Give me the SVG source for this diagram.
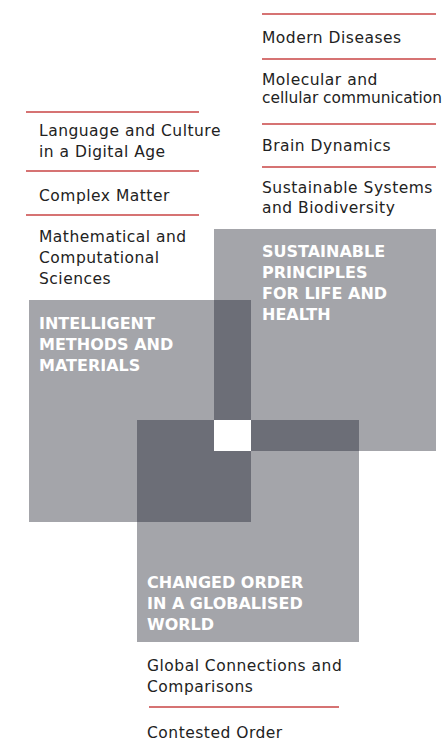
<svg xmlns="http://www.w3.org/2000/svg" width="448" height="750" viewBox="0 0 448 750">
<style>
.light{fill:#a4a5aa}
.dark{fill:#6c6e77}
.hole{fill:#ffffff}
.head{font-family:"DejaVu Sans",sans-serif;font-weight:bold;font-size:16px;fill:#ffffff}
.item{font-family:"DejaVu Sans",sans-serif;font-size:15.5px;letter-spacing:0.5px;fill:#222222}
.tight{letter-spacing:0px}
.sep{stroke:#c84444;stroke-width:1.3;fill:none}
</style>
<rect width="448" height="750" fill="#ffffff"/>
<g id="squares">
<rect class="light" x="29" y="300" width="222" height="222"/>
<rect class="light" x="214" y="229" width="222" height="222"/>
<rect class="light" x="137" y="420" width="222" height="222"/>
<rect class="dark" x="214" y="300" width="37" height="151"/>
<rect class="dark" x="137" y="420" width="114" height="102"/>
<rect class="dark" x="214" y="420" width="145" height="31"/>
<rect class="hole" x="214" y="420" width="37" height="31"/>
</g>
<g id="node-intelligent">
<text class="head" x="39" y="329">INTELLIGENT</text>
<text class="head" x="39" y="350">METHODS AND</text>
<text class="head" x="39" y="371">MATERIALS</text>
</g>
<g id="node-sustainable">
<text class="head" x="262" y="257">SUSTAINABLE</text>
<text class="head" x="262" y="278">PRINCIPLES</text>
<text class="head" x="262" y="299">FOR LIFE AND</text>
<text class="head" x="262" y="320">HEALTH</text>
</g>
<g id="node-changed">
<text class="head" x="147" y="588">CHANGED ORDER</text>
<text class="head" x="147" y="609">IN A GLOBALISED</text>
<text class="head" x="147" y="630">WORLD</text>
</g>
<g id="connectors">
<line class="sep" x1="262" y1="14" x2="436" y2="14"/>
<line class="sep" x1="262" y1="59" x2="436" y2="59"/>
<line class="sep" x1="262" y1="124" x2="436" y2="124"/>
<line class="sep" x1="262" y1="167" x2="436" y2="167"/>
<line class="sep" x1="26" y1="112" x2="199" y2="112"/>
<line class="sep" x1="26" y1="171" x2="199" y2="171"/>
<line class="sep" x1="26" y1="215" x2="199" y2="215"/>
<line class="sep" x1="149" y1="707" x2="339" y2="707"/>
</g>
<g id="list-sustainable">
<text class="item" x="262" y="43">Modern Diseases</text>
<text class="item" x="262" y="85">Molecular and</text>
<text class="item tight" x="262" y="103" textLength="180" lengthAdjust="spacingAndGlyphs">cellular communication</text>
<text class="item" x="262" y="151">Brain Dynamics</text>
<text class="item" x="262" y="193">Sustainable Systems</text>
<text class="item" x="262" y="213">and Biodiversity</text>
</g>
<g id="list-intelligent">
<text class="item" x="39" y="136">Language and Culture</text>
<text class="item" x="39" y="157">in a Digital Age</text>
<text class="item" x="39" y="201">Complex Matter</text>
<text class="item" x="39" y="242">Mathematical and</text>
<text class="item" x="39" y="263">Computational</text>
<text class="item" x="39" y="284">Sciences</text>
</g>
<g id="list-changed">
<text class="item" x="147" y="671">Global Connections and</text>
<text class="item" x="147" y="692">Comparisons</text>
<text class="item" x="147" y="738">Contested Order</text>
</g>
</svg>
